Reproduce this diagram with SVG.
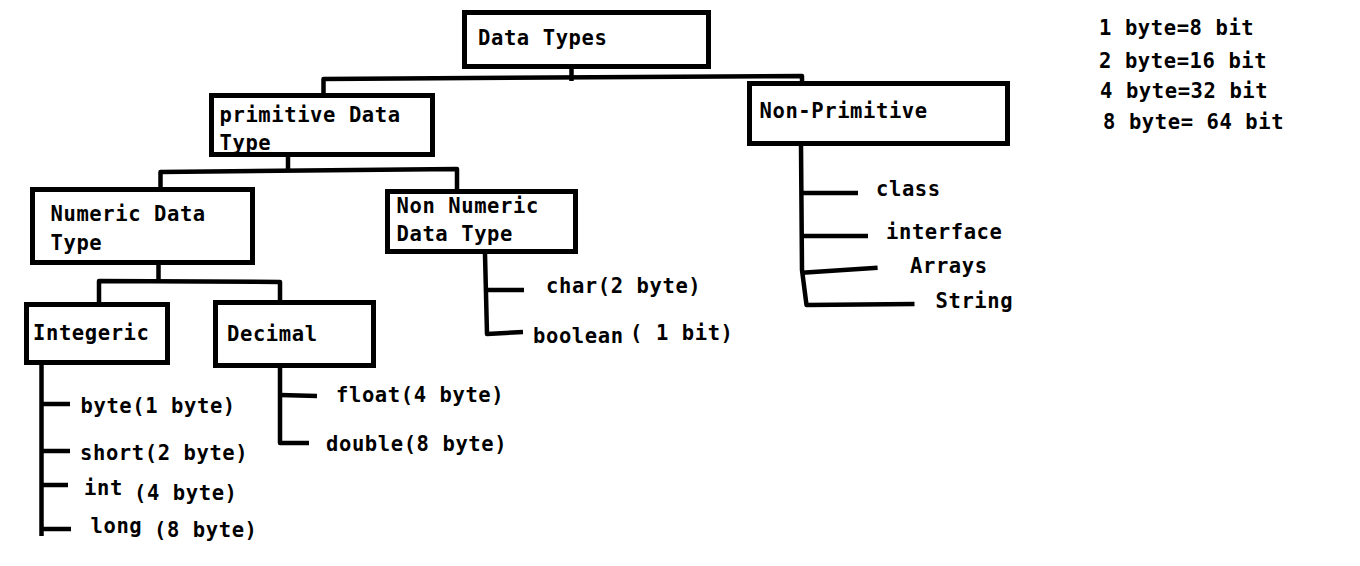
<svg xmlns="http://www.w3.org/2000/svg" width="1360" height="566" viewBox="0 0 1360 566">
<style>
.box{fill:#fff;stroke:#000;stroke-width:5}
.c{fill:none;stroke:#000;stroke-width:4.5;stroke-linejoin:round;stroke-linecap:butt}
text{font-family:"DejaVu Sans Mono","Liberation Mono",monospace;font-weight:bold;font-size:20.5px;letter-spacing:0.6px;fill:#000}
</style>
<rect width="1360" height="566" fill="#fff"/>
<g id="connectors">
<path class="c" d="M323.5,93 L323.5,79 L802,76 L802,82"/>
<path class="c" d="M571.5,69 L571.5,81"/>
<path class="c" d="M288,157 L288,171"/>
<path class="c" d="M160.5,187 L160.5,172 L457,169 L457,189"/>
<path class="c" d="M158.5,265 L158.5,281"/>
<path class="c" d="M99,302 L99,281 L280,282 L280,300"/>
<path class="c" d="M485,254 L487,334 L523,332"/>
<path class="c" d="M486,290 L524,290"/>
<path class="c" d="M41.5,365 L41.5,536"/>
<path class="c" d="M41.5,404 L70,404 M41.5,451 L70,451 M41.5,485 L68,485 M41.5,529 L71,529"/>
<path class="c" d="M280,368 L280,443 L309,443"/>
<path class="c" d="M280,395 L317,396"/>
<path class="c" d="M801,146 L802,270 L806.5,305 L914.5,304"/>
<path class="c" d="M802,193 L858,193 M802,236 L868,236 M802,272.7 L877.6,267.7"/>
</g>
<g id="data-types"><rect class="box" x="464.5" y="12.5" width="244" height="54"/><text x="478" y="44.5">Data Types</text></g>
<g id="primitive"><rect class="box" x="211.5" y="95.5" width="221" height="59"/><text x="219.5" y="121.5">primitive Data</text><text x="219.5" y="149.5">Type</text></g>
<g id="non-primitive"><rect class="box" x="749.5" y="83.5" width="258" height="60"/><text x="759.5" y="117.5">Non-Primitive</text></g>
<g id="numeric"><rect class="box" x="32.5" y="189.5" width="220" height="73"/><text x="50.5" y="221">Numeric Data</text><text x="50.5" y="249.5">Type</text></g>
<g id="non-numeric"><rect class="box" x="387.5" y="191.5" width="188" height="60"/><text x="396.5" y="212.5">Non Numeric</text><text x="396.5" y="240.5">Data Type</text></g>
<g id="integeric"><rect class="box" x="26.5" y="304.5" width="141" height="58"/><text x="33" y="340">Integeric</text></g>
<g id="decimal"><rect class="box" x="215.5" y="302.5" width="158" height="63"/><text x="227" y="341">Decimal</text></g>
<g id="leaves">
<text x="80.5" y="413">byte(1 byte)</text>
<text x="80" y="460">short(2 byte)</text>
<text x="84" y="495">int<tspan x="134" y="500">(4 byte)</tspan></text>
<text x="90.5" y="533">long<tspan x="154" y="537">(8 byte)</tspan></text>
<text x="336" y="402">float(4 byte)</text>
<text x="326" y="451">double(8 byte)</text>
<text x="546" y="293">char(2 byte)</text>
<text x="533" y="343">boolean<tspan x="630" y="340">( 1 bit)</tspan></text>
<text x="876" y="196">class</text>
<text x="886" y="239">interface</text>
<text x="910" y="272.5">Arrays</text>
<text x="935.5" y="308">String</text>
</g>
<g id="notes">
<text x="1099" y="35">1 byte=8 bit</text>
<text x="1099" y="67.5">2 byte=16 bit</text>
<text x="1100" y="97.5">4 byte=32 bit</text>
<text x="1103" y="129">8 byte= 64 bit</text>
</g>
</svg>
